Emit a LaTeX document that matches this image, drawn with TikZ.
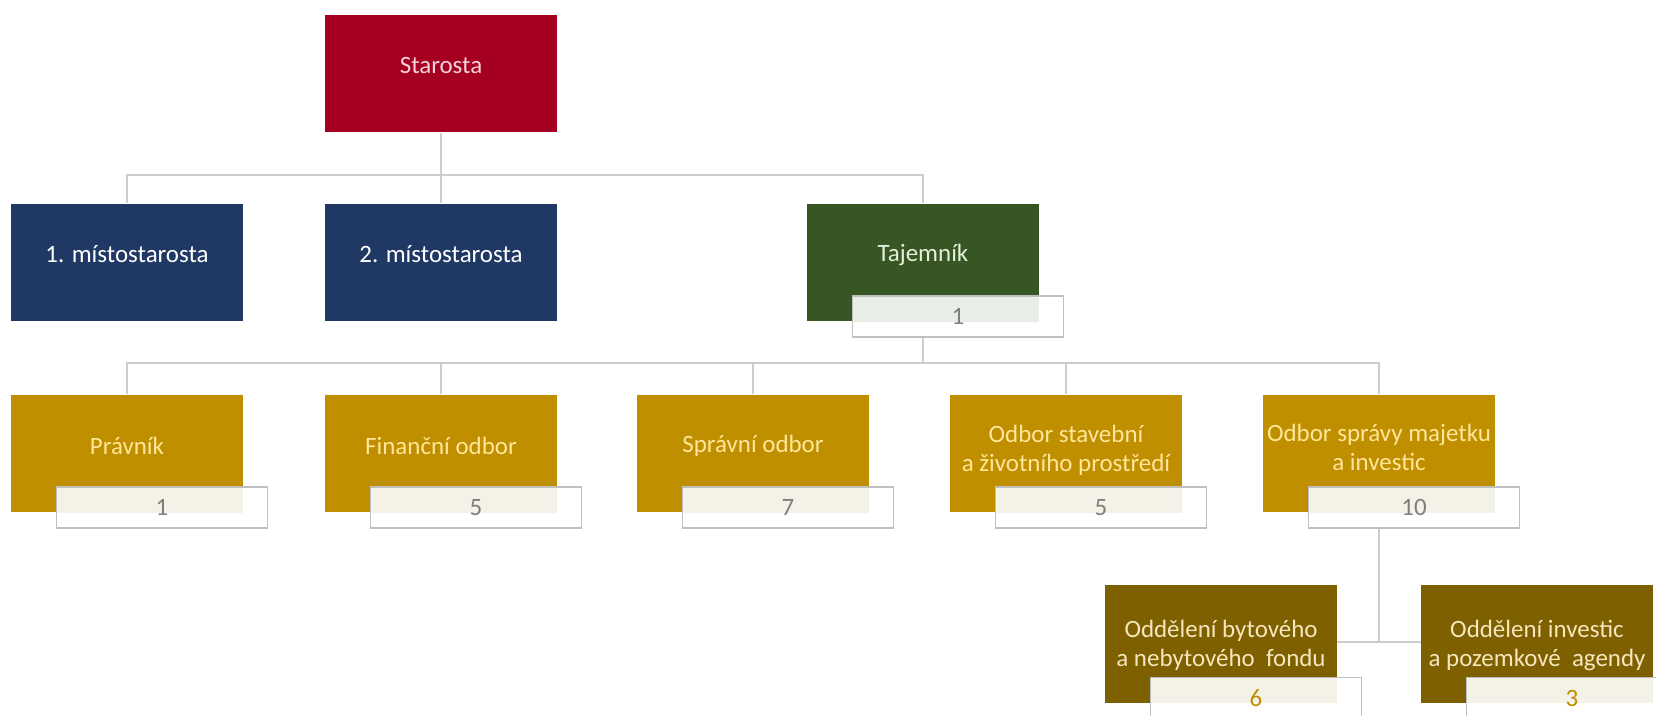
\documentclass[tikz,border=0pt]{standalone}
\usepackage{fontspec}
\setmainfont{Carlito}
\usetikzlibrary{backgrounds}
\definecolor{crimson}{HTML}{A50021}
\definecolor{navy}{HTML}{1F3864}
\definecolor{moss}{HTML}{375623}
\definecolor{ochre}{HTML}{BF8F00}
\definecolor{umber}{HTML}{7F6000}
\definecolor{wirec}{HTML}{CDCDCD}
\definecolor{framec}{HTML}{BFBFBF}
\definecolor{cream}{HTML}{F4F1E6}
\definecolor{sage}{HTML}{E8EDE5}
\definecolor{numgray}{HTML}{7F7F7F}
\definecolor{pinkish}{HTML}{F6D3DA}
\definecolor{mint}{HTML}{E2EFDA}
\definecolor{straw}{HTML}{FFE699}
\definecolor{wheat}{HTML}{F5E6BD}
\begin{document}
\begin{tikzpicture}[x=0.02cm,y=-0.02cm,every node/.style={font=\fontsize{14.2}{16.5}\selectfont},
    unit/.style={fill=#1,minimum width=4.64cm,minimum height=2.36cm,inner sep=0pt},
    cap/.style n args={3}{label={[text=#1,align=center,yshift=#3]center:{#2}}},
    cnt/.style 2 args={draw=framec,line width=.6pt,fill=white,minimum width=4.22cm,minimum height=.82cm,inner sep=0pt,text=numgray,
        path picture={\fill[#2] (path picture bounding box.north west) rectangle (#1.south east);}},
    wire/.style={draw=wirec,line width=.04cm}]
    \clip (0,0) rectangle (1656,716);
    \node[unit=crimson,cap={pinkish}{Starosta}{.16cm}] (starosta) at (441,73.5) {};
    \node[unit=navy,cap={white}{1. místostarosta}{.16cm}] (mist1) at (127,262.5) {};
    \node[unit=navy,cap={white}{2. místostarosta}{.16cm}] (mist2) at (441,262.5) {};
    \node[unit=moss,cap={mint}{Tajemník}{.16cm}] (tajemnik) at (923,262.5) {};
    \node[cnt={tajemnik}{sage}] (tajemnik-n) at ([shift={(35,54)}]tajemnik.center) {1};
    \foreach \nm/\xx/\tx/\nn/\sh in {pravnik/127/Právník/1/.16cm,financni/441/Finanční odbor/5/.16cm,spravni/753/Správní odbor/7/.16cm,
        stavebni/1066/{Odbor stavební\\a životního prostředí}/5/.06cm,majetek/1379/{Odbor správy majetku\\a investic}/10/.12cm} {
        \node[unit=ochre,cap={straw}{\tx}{\sh}] (\nm) at (\xx,453.5) {};
        \node[cnt={\nm}{cream}] (\nm-n) at ([shift={(35,54)}]\nm.center) {\nn};
    }
    \foreach \nm/\xx/\tx/\nn in {byt/1221/{Oddělení bytového\\a nebytového \ fondu}/6,inv/1537/{Oddělení investic\\a pozemkové \ agendy}/3} {
        \node[unit=umber,cap={wheat}{\tx}{-.03cm}] (\nm) at (\xx,644) {};
        \node[cnt={\nm}{cream},text=ochre] (\nm-n) at ([shift={(35,54)}]\nm.center) {\nn};
    }
    \begin{scope}[on background layer]
        \coordinate (top) at (441,175);
        \coordinate (mid) at (tajemnik |- 0,363);
        \draw[wire] (starosta) -- (top);
        \draw[wire] (mist1) |- (top) -| (tajemnik);
        \draw[wire] (mist2) -- (top);
        \draw[wire] (tajemnik) -- (mid);
        \draw[wire] (pravnik) |- (mid) -| (majetek);
        \foreach \nm in {financni,spravni,stavebni} {
            \draw[wire] (\nm) -- (\nm |- mid);
        }
        \draw[wire] (majetek) -- (majetek |- 0,642);
        \draw[wire] (byt.center |- 0,642) -- (inv.center |- 0,642);
    \end{scope}
\end{tikzpicture}
\end{document}
